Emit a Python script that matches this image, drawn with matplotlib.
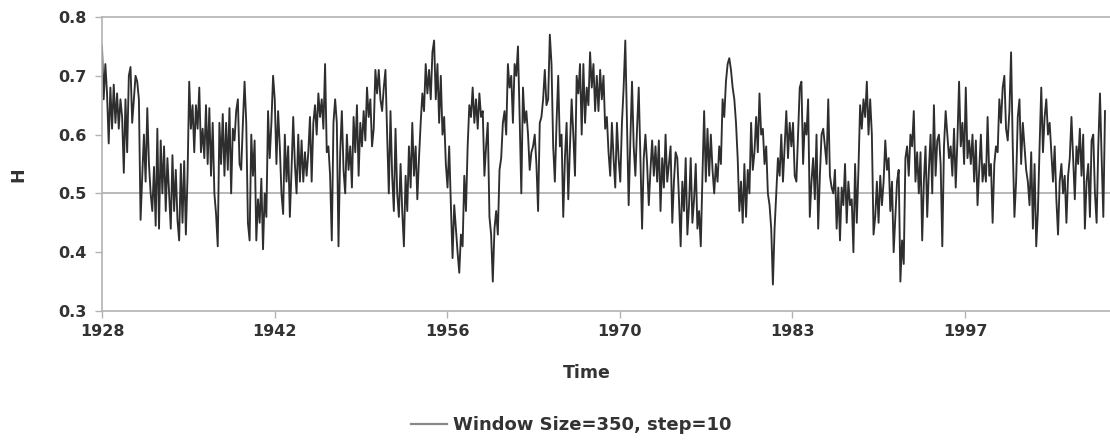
import matplotlib
matplotlib.use("Agg")
import matplotlib.pyplot as plt
import numpy as np

# H values, left to right (window 350, step 10)
h_1928 = [0.75, 0.66, 0.72, 0.67, 0.585, 0.68, 0.61, 0.685, 0.62, 0.67, 0.61, 0.66, 0.63,
          0.535, 0.66, 0.57, 0.70, 0.715, 0.62, 0.66, 0.70, 0.69, 0.66, 0.455, 0.53, 0.60,
          0.52, 0.645, 0.55, 0.50, 0.47, 0.545, 0.445, 0.61, 0.44, 0.59, 0.50, 0.58, 0.47,
          0.56, 0.50, 0.44, 0.565, 0.47, 0.54, 0.455, 0.42, 0.55, 0.45, 0.555, 0.43, 0.53,
          0.69, 0.61, 0.65, 0.57, 0.65, 0.61, 0.68, 0.57, 0.61, 0.56, 0.65, 0.55, 0.645,
          0.53, 0.62, 0.50, 0.465, 0.41, 0.62, 0.55, 0.635, 0.53, 0.62, 0.54, 0.645, 0.50,
          0.61, 0.59, 0.64, 0.66, 0.55, 0.54, 0.62, 0.69, 0.62, 0.45, 0.42, 0.60, 0.53,
          0.59, 0.42, 0.49, 0.45, 0.525, 0.405, 0.50, 0.46, 0.64, 0.56]
h_1943 = [0.62, 0.70, 0.66, 0.55, 0.64, 0.58, 0.50, 0.465, 0.60, 0.52, 0.58, 0.46, 0.54,
          0.63, 0.55, 0.50, 0.60, 0.52, 0.59, 0.52, 0.57, 0.53, 0.57, 0.63, 0.52, 0.62,
          0.65, 0.60, 0.67, 0.63, 0.66, 0.61, 0.72, 0.57, 0.58, 0.53, 0.42, 0.62, 0.66,
          0.62, 0.41, 0.57, 0.64, 0.54, 0.50, 0.60, 0.54, 0.58, 0.51, 0.63, 0.57, 0.65,
          0.53, 0.62, 0.58, 0.64, 0.59, 0.68, 0.63, 0.66, 0.58, 0.61, 0.71, 0.67, 0.71,
          0.66, 0.64, 0.68, 0.71, 0.60, 0.50, 0.64, 0.53, 0.47, 0.61, 0.50, 0.46, 0.55,
          0.47, 0.41, 0.53, 0.47, 0.58, 0.51, 0.62, 0.53, 0.58, 0.49, 0.56, 0.62, 0.67,
          0.64, 0.72, 0.67, 0.71, 0.66, 0.74, 0.76, 0.66, 0.72, 0.62, 0.70, 0.60, 0.63,
          0.55, 0.51, 0.58, 0.48, 0.39, 0.48, 0.44, 0.40, 0.365, 0.43, 0.41, 0.53, 0.47,
          0.58, 0.65, 0.63, 0.68, 0.62, 0.66, 0.61, 0.67, 0.63, 0.64, 0.53, 0.58, 0.62,
          0.46, 0.43, 0.35, 0.44, 0.47, 0.43, 0.54, 0.56, 0.62, 0.64, 0.60, 0.72, 0.68,
          0.70, 0.62, 0.72]
h_1963 = [0.70, 0.75, 0.63, 0.50, 0.68, 0.62, 0.64, 0.60, 0.54, 0.57, 0.58, 0.60, 0.55,
          0.47, 0.62, 0.63, 0.66, 0.71, 0.65, 0.66, 0.77, 0.72, 0.58, 0.52, 0.62, 0.70,
          0.58, 0.60, 0.46, 0.56, 0.62, 0.49, 0.58, 0.66, 0.60, 0.53, 0.70, 0.67, 0.72,
          0.60, 0.72, 0.62, 0.68, 0.65, 0.74, 0.68, 0.72, 0.64, 0.70, 0.64, 0.71, 0.66,
          0.70, 0.61, 0.63, 0.57, 0.53, 0.62, 0.56, 0.51, 0.62, 0.56, 0.52, 0.62, 0.68,
          0.76, 0.62, 0.48, 0.59, 0.69, 0.58, 0.53, 0.61, 0.68, 0.56, 0.44, 0.56, 0.60,
          0.55, 0.48, 0.54, 0.59, 0.53, 0.58, 0.52, 0.59, 0.47, 0.56, 0.51, 0.60, 0.52,
          0.55, 0.58, 0.45, 0.52, 0.57, 0.56, 0.49, 0.41, 0.52, 0.47, 0.56, 0.43, 0.48,
          0.56, 0.45, 0.49, 0.55, 0.44, 0.47, 0.41, 0.53, 0.64, 0.52, 0.61, 0.53, 0.60,
          0.54, 0.50, 0.55, 0.52, 0.58, 0.55, 0.66, 0.63, 0.69, 0.72, 0.73, 0.71, 0.68,
          0.66, 0.62, 0.56, 0.47, 0.52, 0.45, 0.55, 0.46, 0.54, 0.50, 0.62, 0.54, 0.57,
          0.63]
h_1983 = [0.57, 0.67, 0.60, 0.61, 0.55, 0.58, 0.50, 0.48, 0.44, 0.345, 0.44, 0.50, 0.56,
          0.53, 0.60, 0.52, 0.58, 0.64, 0.56, 0.62, 0.58, 0.62, 0.53, 0.52, 0.60, 0.68,
          0.69, 0.55, 0.62, 0.60, 0.66, 0.46, 0.52, 0.56, 0.49, 0.60, 0.44, 0.53, 0.60,
          0.61, 0.58, 0.55, 0.66, 0.53, 0.51, 0.50, 0.54, 0.44, 0.51, 0.42, 0.51, 0.48,
          0.55, 0.45, 0.52, 0.48, 0.49, 0.40, 0.55, 0.45, 0.54, 0.65, 0.61, 0.66, 0.63,
          0.69, 0.60, 0.66, 0.60, 0.43, 0.46, 0.52, 0.45, 0.53, 0.48, 0.52, 0.59, 0.54,
          0.56, 0.47, 0.52, 0.40, 0.46, 0.52, 0.54, 0.35, 0.42, 0.38, 0.56, 0.58, 0.53,
          0.60, 0.58, 0.64, 0.52, 0.57, 0.50, 0.57, 0.42, 0.52, 0.58, 0.46, 0.54, 0.60,
          0.50, 0.65, 0.53, 0.59, 0.60, 0.55, 0.41, 0.58, 0.64, 0.60, 0.56, 0.58, 0.53,
          0.61, 0.51, 0.59, 0.69, 0.58, 0.62, 0.55, 0.68, 0.56, 0.59, 0.55, 0.60, 0.52,
          0.59, 0.48, 0.54, 0.60, 0.52, 0.55, 0.52, 0.63, 0.53, 0.55, 0.45, 0.55, 0.58,
          0.57]
h_2002 = [0.66, 0.62, 0.68, 0.70, 0.61, 0.59, 0.64, 0.74, 0.58, 0.46, 0.52, 0.63, 0.66,
          0.55, 0.62, 0.58, 0.54, 0.52, 0.48, 0.57, 0.44, 0.55, 0.41, 0.47, 0.58, 0.68,
          0.57, 0.63, 0.66, 0.60, 0.62, 0.57, 0.52, 0.58, 0.49, 0.43, 0.52, 0.55, 0.50,
          0.53, 0.45, 0.53, 0.56, 0.63, 0.56, 0.49, 0.58, 0.55, 0.61, 0.53, 0.60, 0.44,
          0.52, 0.55, 0.46, 0.59, 0.60, 0.50, 0.45, 0.58, 0.67, 0.56, 0.46, 0.64]

h = np.array(h_1928 + h_1943 + h_1963 + h_1983 + h_2002)
tick_labels = ["1928", "1942", "1956", "1970", "1983", "1997"]
y_ticks = [0.3, 0.4, 0.5, 0.6, 0.7, 0.8]

txt = "#333333"
grid = "#b3b3b3"

fig = plt.figure(figsize=(11.1, 4.43), dpi=100)
ax = fig.add_axes([102 / 1110, 1 - 311 / 443, 1 - 102 / 1110, 294 / 443])

x = np.arange(len(h))
line, = ax.plot(x, h, color="#2e2e2e", lw=1.35, label="Window Size=350, step=10")
ax.axhline(0.5, color=grid, lw=1.3, zorder=0)

# category axis: one label every ~172 px
step = (len(h) - 1) * 172.6 / 1003
ax.set_xticks(np.arange(len(tick_labels)) * step)
ax.set_xticklabels(tick_labels)
ax.set_xlim(0, (len(h) - 1) * 1008 / 1003)
ax.set_ylim(0.3, 0.8)
ax.set_yticks(y_ticks)
ax.set_yticklabels([f"{v:.1f}" for v in y_ticks])

for s in ["top", "left", "bottom"]:
    ax.spines[s].set_color(grid)
    ax.spines[s].set_linewidth(1.2)
ax.spines["right"].set_visible(False)
ax.tick_params(colors=grid, length=5, width=1)
for lab in ax.get_xticklabels() + ax.get_yticklabels():
    lab.set_color(txt)
    lab.set_fontweight("bold")
    lab.set_fontsize(11.5)
ax.tick_params(axis="x", pad=4)
ax.tick_params(axis="y", pad=6)

fig.text(587 / 1110, 1 - 373 / 443, "Time", ha="center", va="center",
         fontsize=12.5, fontweight="bold", color=txt)
fig.text(18 / 1110, 1 - 175 / 443, "H", ha="center", va="center", rotation=90,
         fontsize=12.5, fontweight="bold", color=txt)

fig.legend(handles=[line], loc="center", bbox_to_anchor=(571 / 1110, 1 - 425 / 443),
           frameon=False, handlelength=2.0, handletextpad=0.3,
           prop={"weight": "bold", "size": 13}, labelcolor=txt)
line_leg = fig.legends[0].get_lines()[0]
line_leg.set_color("#888888")
line_leg.set_linewidth(1.6)

fig.savefig("out.png", dpi=100)
